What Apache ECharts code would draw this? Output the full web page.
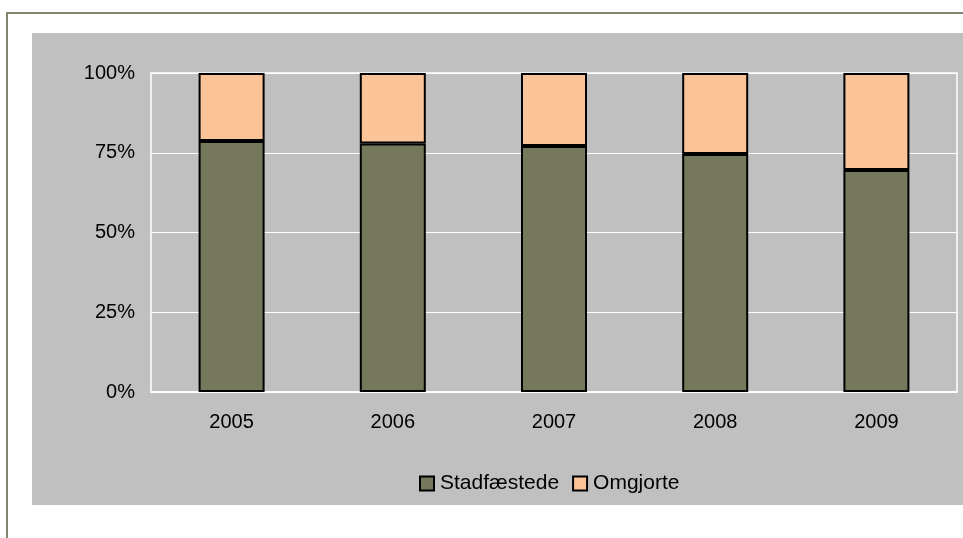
<!DOCTYPE html>
<html><head><meta charset="utf-8">
<script src="https://cdn.jsdelivr.net/npm/echarts@6/dist/echarts.min.js"></script>
<style>html,body{margin:0;padding:0;background:#fff;}#c{width:963px;height:538px;}</style>
</head><body><div id="c"></div>
<script>
const categories = ['2005','2006','2007','2008','2009'];
const stadfaestede = [78.7, 77.9, 77.1, 74.6, 69.6];
const omgjorte = [21.3, 22.1, 22.9, 25.4, 30.4];
const seriesNames = ['Stadfæstede','Omgjorte'];

const chart = echarts.init(document.getElementById('c'), null, {renderer:'canvas'});
const font = 'Liberation Sans, Arial, sans-serif';
chart.setOption({
  animation:false,
  backgroundColor:'#fff',
  textStyle:{fontFamily:font},
  graphic:[
    {type:'rect', z:-10, shape:{x:7, y:13, width:1000, height:600}, style:{fill:'#fff', stroke:'#85856f', lineWidth:2}},
    {type:'rect', z:-9, shape:{x:32, y:33, width:931, height:472}, style:{fill:'#c0c0c0'}}
  ],
  grid:{left:151, top:73, right:6, bottom:146, show:true, borderColor:'#fff', borderWidth:1.5, backgroundColor:'transparent'},
  legend:{
    data:seriesNames, left:419, top:473, padding:0, itemWidth:14, itemHeight:14, itemGap:13,
    textStyle:{fontFamily:font, fontSize:21, color:'#000', padding:[0,0,0,1]},
    icon:'rect'
  },
  xAxis:{
    type:'category', data:categories,
    axisLine:{show:true, lineStyle:{color:'#fff', width:1.5}},
    axisTick:{show:false},
    axisLabel:{color:'#000', fontSize:20, fontFamily:font, margin:20}
  },
  yAxis:{
    type:'value', min:0, max:100, interval:25,
    axisLine:{show:false}, axisTick:{show:false},
    splitLine:{lineStyle:{color:'#fff', width:1}},
    axisLabel:{color:'#000', fontSize:20, fontFamily:font, margin:16, formatter:'{value}%'}
  },
  series:[
    {name:seriesNames[0], type:'bar', stack:'a', data:stadfaestede, barWidth:66,
     itemStyle:{color:'#75785a', borderColor:'#000', borderWidth:2}},
    {name:seriesNames[1], type:'bar', stack:'a', data:omgjorte, barWidth:66,
     itemStyle:{color:'#fbc498', borderColor:'#000', borderWidth:2}}
  ]
});
</script></body></html>
